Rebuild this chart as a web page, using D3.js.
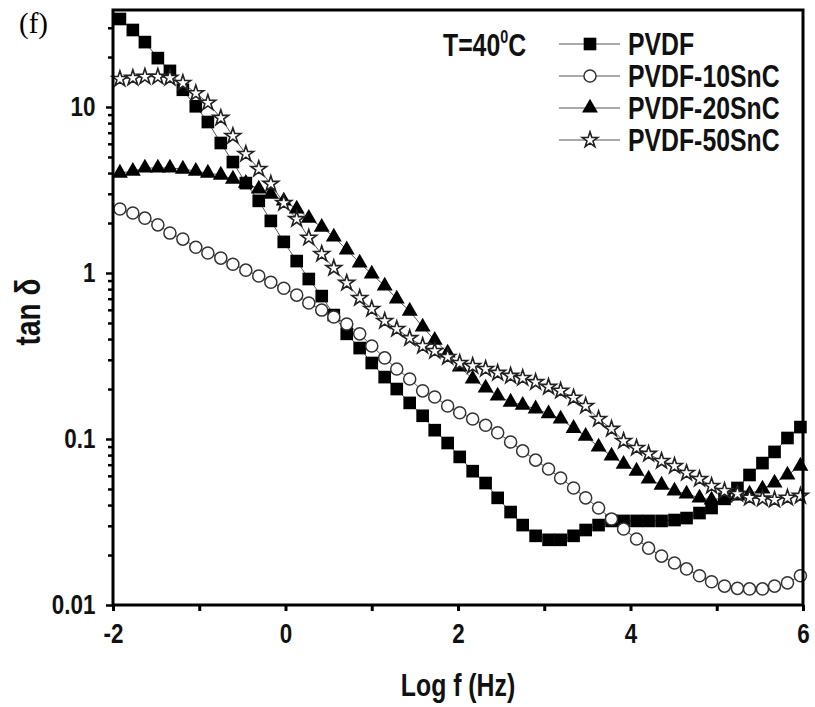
<!DOCTYPE html>
<html>
<head>
<meta charset="utf-8">
<title>tan delta vs log f</title>
<script src="https://d3js.org/d3.v7.min.js"></script>
<style>
  body { margin: 0; background: #fff; }
  .lbl { font-family: "Liberation Sans", Arial, sans-serif; font-weight: bold; fill: #111; }
</style>
</head>
<body>
<div id="chart"></div>
<script>
// log10 of frequency (Hz) for every measured point
const logF = [-1.92, -1.77, -1.63, -1.48, -1.34, -1.19, -1.04, -0.90, -0.75, -0.61,
  -0.46, -0.31, -0.17, -0.02, 0.13, 0.27, 0.42, 0.56, 0.71, 0.86,
  1.00, 1.15, 1.29, 1.44, 1.59, 1.73, 1.88, 2.02, 2.17, 2.32,
  2.46, 2.61, 2.75, 2.90, 3.05, 3.19, 3.34, 3.48, 3.63, 3.78,
  3.92, 4.07, 4.21, 4.36, 4.51, 4.65, 4.80, 4.94, 5.09, 5.24,
  5.38, 5.53, 5.67, 5.82, 5.97];

// tan delta
const pvdf = [33.9, 29.1, 24.6, 19.7, 16.5, 12.7, 10.1, 8.12, 6.07, 4.66,
  3.48, 2.72, 2.06, 1.54, 1.18, 0.92, 0.726, 0.558, 0.430, 0.353,
  0.287, 0.236, 0.200, 0.165, 0.138, 0.113, 0.0946, 0.078, 0.064, 0.0543,
  0.0442, 0.0363, 0.0303, 0.0261, 0.0247, 0.0247, 0.0261, 0.0283, 0.0303, 0.0321,
  0.0321, 0.0321, 0.0321, 0.0321, 0.0325, 0.0334, 0.0358, 0.0384, 0.0436, 0.0507,
  0.0607, 0.0716, 0.0836, 0.1014, 0.118];
const pvdf10 = [2.43, 2.30, 2.14, 1.95, 1.74, 1.60, 1.43, 1.32, 1.23, 1.13,
  1.04, 0.96, 0.88, 0.81, 0.736, 0.659, 0.598, 0.543, 0.493, 0.430,
  0.363, 0.308, 0.264, 0.230, 0.195, 0.179, 0.158, 0.144, 0.132, 0.121,
  0.109, 0.096, 0.0848, 0.0746, 0.0659, 0.0582, 0.0507, 0.0442, 0.0384, 0.033,
  0.0287, 0.025, 0.022, 0.0197, 0.0179, 0.0165, 0.0150, 0.0138, 0.0130, 0.0126,
  0.0125, 0.0125, 0.0130, 0.0136, 0.0150];
const pvdf20 = [4.00, 4.11, 4.29, 4.29, 4.29, 4.23, 4.11, 4.00, 3.89, 3.68,
  3.48, 3.21, 2.99, 2.72, 2.43, 2.14, 1.89, 1.65, 1.38, 1.15,
  0.986, 0.836, 0.697, 0.590, 0.473, 0.394, 0.330, 0.272, 0.230, 0.203,
  0.182, 0.167, 0.160, 0.152, 0.142, 0.132, 0.116, 0.104, 0.0896, 0.0791,
  0.0706, 0.0641, 0.0574, 0.0528, 0.0486, 0.0467, 0.0442, 0.043, 0.0442, 0.0454,
  0.0467, 0.050, 0.0543, 0.0607, 0.0687];
const pvdf50 = [14.75, 14.96, 15.2, 15.2, 14.96, 13.95, 12.1, 10.6, 8.59, 6.68,
  5.21, 4.23, 3.44, 2.64, 2.11, 1.63, 1.30, 1.07, 0.871, 0.706,
  0.607, 0.514, 0.460, 0.405, 0.363, 0.339, 0.312, 0.287, 0.275, 0.264,
  0.250, 0.240, 0.233, 0.220, 0.206, 0.195, 0.177, 0.158, 0.132, 0.115,
  0.0973, 0.0883, 0.0813, 0.0736, 0.0687, 0.0624, 0.0574, 0.0521, 0.0486, 0.0467,
  0.0442, 0.0437, 0.043, 0.0442, 0.0454];

const seriesNames = ["PVDF", "PVDF-10SnC", "PVDF-20SnC", "PVDF-50SnC"];
const seriesValues = [pvdf, pvdf10, pvdf20, pvdf50];

const xTicks = [-2, 0, 2, 4, 6];
const xMinorTicks = [-1, 1, 3, 5];
const yTicks = [0.01, 0.1, 1, 10];
const yTickLabels = ["0.01", "0.1", "1", "10"];

const width = 815, height = 707;
const margin = { top: 10, right: 12, bottom: 102, left: 113 };
const plotW = width - margin.left - margin.right,
      plotH = height - margin.top - margin.bottom;
const squeeze = 0.8; // the figure uses a narrow bold face

const svg = d3.select("#chart").append("svg")
    .attr("width", width)
    .attr("height", height)
    .style("background", "#fff");

const g = svg.append("g")
    .attr("transform", `translate(${margin.left},${margin.top})`);

const x = d3.scaleLinear().domain([-2, 6]).range([0, plotW]);
const y = d3.scaleLog().domain([0.01, 38.4]).range([plotH, 0]);

// marker shapes per series
const symbols = [
  { type: d3.symbolSquare, size: 160, fill: "#000", stroke: "none", sw: 0 },
  { type: d3.symbolCircle, size: 115, fill: "#fff", stroke: "#333", sw: 1.5 },
  { type: d3.symbolTriangle, size: 110, fill: "#000", stroke: "none", sw: 0 },
  { type: d3.symbolStar, size: 76, fill: "#fff", stroke: "#222", sw: 1.6 }
];

const line = d3.line()
    .x((d, i) => x(logF[i]))
    .y(d => y(d));

seriesValues.forEach(vals => {
  g.append("path")
      .datum(vals)
      .attr("fill", "none")
      .attr("stroke", "#555")
      .attr("stroke-width", 1)
      .attr("d", line);
});

seriesValues.forEach((vals, s) => {
  const sym = symbols[s];
  g.append("g").selectAll("path")
    .data(vals)
    .join("path")
      .attr("transform", (d, i) => `translate(${x(logF[i])},${y(d)})`)
      .attr("d", d3.symbol().type(sym.type).size(sym.size))
      .attr("fill", sym.fill)
      .attr("stroke", sym.stroke)
      .attr("stroke-width", sym.sw);
});

// y axis: labelled decades plus minor ticks
const yAll = y.ticks().filter(t => t >= 0.01 && t <= 38.4);
const isMajor = d => yTicks.some(t => Math.abs(t - d) < d * 1e-6);
const yAxis = g.append("g")
    .call(d3.axisLeft(y).tickValues(yAll).tickSize(7).tickPadding(15)
      .tickFormat(d => {
        const k = yTicks.findIndex(t => Math.abs(t - d) < d * 1e-6);
        return k >= 0 ? yTickLabels[k] : "";
      }));
yAxis.select(".domain").remove();
yAxis.selectAll(".tick line")
    .attr("stroke", "#000")
    .attr("stroke-width", 2.5)
    .attr("x2", d => isMajor(d) ? -7 : -5);
yAxis.selectAll(".tick text")
    .attr("class", "lbl")
    .attr("transform", `scale(${squeeze},1)`)
    .style("font-size", "28px");

// x axis
const xAxis = g.append("g")
    .attr("transform", `translate(0,${plotH})`)
    .call(d3.axisBottom(x).tickValues(xTicks.concat(xMinorTicks)).tickSize(6).tickPadding(12)
      .tickFormat(d => xTicks.includes(d) ? d : ""));
xAxis.select(".domain").remove();
xAxis.selectAll(".tick line")
    .attr("stroke", "#000")
    .attr("stroke-width", 3);
xAxis.selectAll(".tick text")
    .attr("class", "lbl")
    .attr("transform", `scale(${squeeze},1)`)
    .style("font-size", "28px");

// frame
g.append("rect")
    .attr("width", plotW)
    .attr("height", plotH)
    .attr("fill", "none")
    .attr("stroke", "#000")
    .attr("stroke-width", 3);

// axis titles
svg.append("text")
    .attr("class", "lbl")
    .attr("transform", `translate(${margin.left + plotW / 2},696) scale(${squeeze},1)`)
    .attr("text-anchor", "middle")
    .style("font-size", "31px")
    .text("Log f (Hz)");

svg.append("text")
    .attr("class", "lbl")
    .attr("transform", `translate(40,312) rotate(-90) scale(${squeeze},1)`)
    .attr("text-anchor", "middle")
    .style("font-size", "35px")
    .text("tan δ");

svg.append("text")
    .attr("x", 19)
    .attr("y", 33)
    .style("font-family", "'Liberation Serif', 'Times New Roman', serif")
    .style("font-size", "29px")
    .text("(f)");

// temperature note
const tNote = svg.append("text")
    .attr("class", "lbl")
    .attr("transform", `translate(443,56) scale(${squeeze},1)`)
    .style("font-size", "31px");
tNote.append("tspan").text("T=40");
tNote.append("tspan").attr("dy", -13).style("font-size", "18px").text("0");
tNote.append("tspan").attr("dy", 13).text("C");

// legend
const legend = svg.append("g").attr("transform", "translate(559,44)");
seriesNames.forEach((name, s) => {
  const row = legend.append("g").attr("transform", `translate(0,${s * 32})`);
  row.append("line")
      .attr("x1", 0).attr("x2", 61)
      .attr("stroke", "#555").attr("stroke-width", 1.2);
  const sym = symbols[s];
  row.append("path")
      .attr("transform", "translate(31,0)")
      .attr("d", d3.symbol().type(sym.type).size(sym.size))
      .attr("fill", sym.fill)
      .attr("stroke", sym.stroke)
      .attr("stroke-width", sym.sw);
  row.append("text")
      .attr("class", "lbl")
      .attr("transform", `translate(69,0) scale(${squeeze},1)`)
      .attr("dy", "0.36em")
      .style("font-size", "31px")
      .text(name);
});
</script>
</body>
</html>
